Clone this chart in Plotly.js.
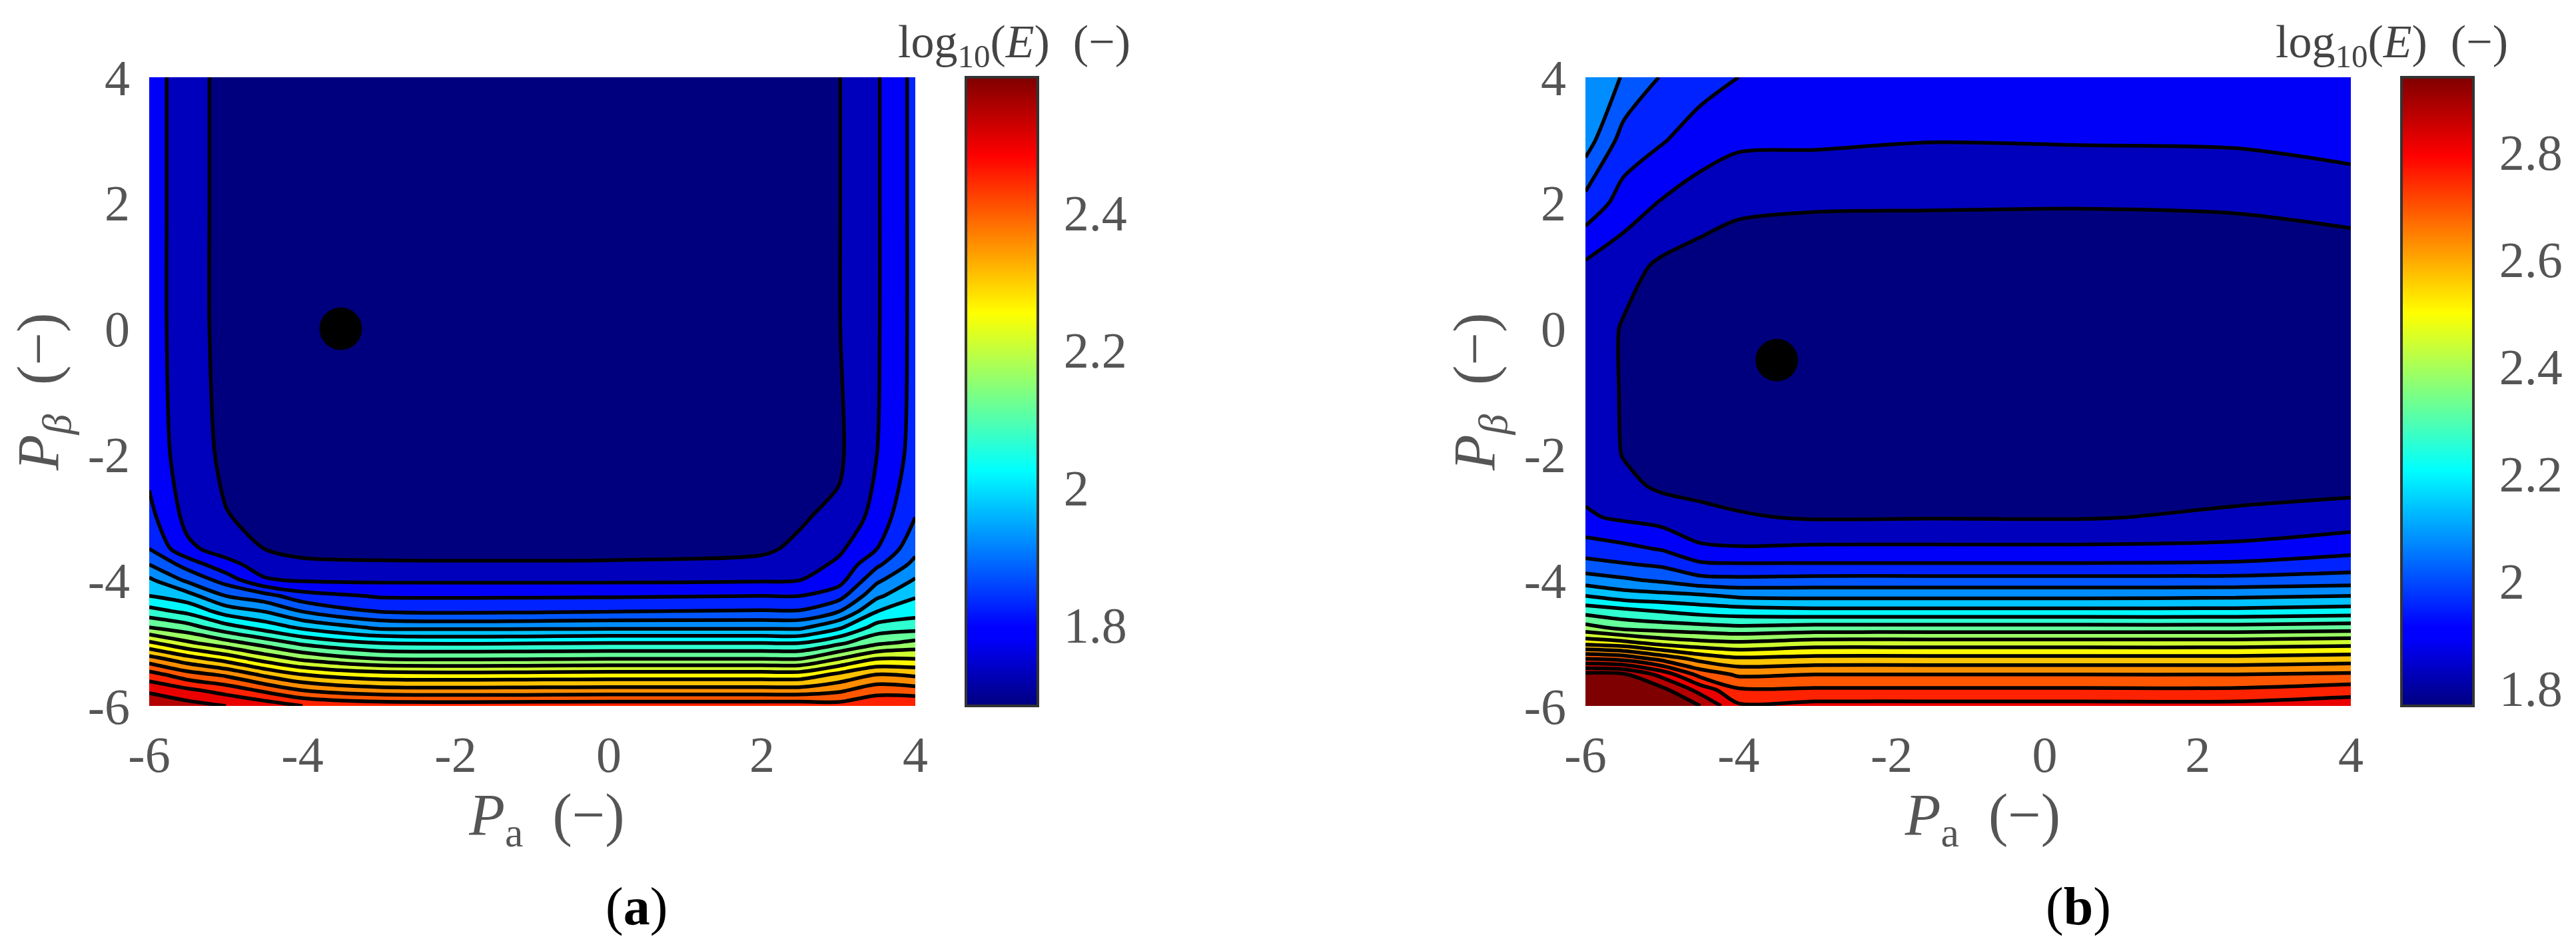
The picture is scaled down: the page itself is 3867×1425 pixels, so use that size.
<!DOCTYPE html>
<html>
<head>
<meta charset="utf-8">
<script src="https://cdn.plot.ly/plotly-3.0.1.min.js"></script>
<style>html,body{margin:0;padding:0;background:#fff}
svg text{font-family:'Liberation Serif',serif !important}</style>
</head>
<body>
<div id="chart" style="width:3867px;height:1425px"></div>
<script>
// Panel (a)
const xA = [-6,-5.5,-5,-4.5,-4,-3,0,2,2.5,3,3.5,4];
const yA = [4,2,0,-2,-3,-3.5,-3.75,-4,-4.25,-4.5,-4.75,-5,-5.25,-5.5,-5.75,-6];
const colsA = [
 [1.775,1.775,1.775,1.78,1.815,1.85,1.90,1.96,2.00,2.07,2.15,2.26,2.37,2.47,2.54,2.595],
 [1.72,1.72,1.72,1.725,1.735,1.76,1.83,1.89,1.97,2.04,2.12,2.21,2.32,2.42,2.51,2.57],
 [1.685,1.685,1.685,1.69,1.702,1.73,1.765,1.83,1.90,1.98,2.07,2.17,2.28,2.39,2.48,2.55],
 [1.684,1.684,1.684,1.686,1.69,1.70,1.73,1.755,1.87,1.95,2.03,2.13,2.23,2.34,2.44,2.53],
 [1.683,1.683,1.683,1.685,1.688,1.693,1.705,1.745,1.82,1.90,1.99,2.09,2.19,2.30,2.40,2.50],
 [1.683,1.683,1.683,1.685,1.69,1.692,1.703,1.742,1.795,1.85,1.94,2.05,2.15,2.27,2.37,2.48],
 [1.683,1.683,1.683,1.685,1.69,1.692,1.703,1.742,1.795,1.85,1.94,2.05,2.15,2.27,2.37,2.48],
 [1.684,1.684,1.684,1.686,1.692,1.696,1.706,1.745,1.80,1.855,1.94,2.05,2.15,2.27,2.37,2.48],
 [1.688,1.688,1.688,1.69,1.697,1.705,1.725,1.75,1.80,1.855,1.94,2.05,2.15,2.27,2.37,2.48],
 [1.698,1.698,1.698,1.692,1.708,1.74,1.76,1.78,1.83,1.90,1.99,2.09,2.20,2.31,2.39,2.47],
 [1.745,1.745,1.745,1.75,1.77,1.80,1.84,1.89,1.94,2.0,2.07,2.14,2.25,2.35,2.43,2.49],
 [1.815,1.815,1.815,1.82,1.85,1.885,1.915,1.955,1.995,2.03,2.08,2.165,2.25,2.34,2.42,2.5]
];
const dotA = {x:[-3.5], y:[0]};
const rangeA = [1.682,2.597];
const cbTicksA = [1.8,2,2.2,2.4];
const cbLabelsA = ['1.8','2','2.2','2.4'];

// Panel (b)
const xB = [-6,-5.5,-5,-4.5,-4,-3,-1.5,0.5,2.5,4];
const yB = [4,3,2,1,0,-1,-2,-2.5,-3,-3.5,-3.75,-4,-4.25,-4.5,-4.75,-5,-5.25,-5.5,-5.75,-6];
const colsB = [
 [2.09,2.07,1.96,1.85,1.835,1.835,1.84,1.845,1.868,1.95,2.0,2.07,2.16,2.26,2.36,2.50,2.70,2.90,2.925,2.93],
 [2.035,1.955,1.895,1.82,1.795,1.795,1.797,1.815,1.85,1.935,1.985,2.05,2.13,2.24,2.32,2.48,2.68,2.89,2.92,2.93],
 [1.975,1.925,1.855,1.79,1.78,1.78,1.785,1.79,1.835,1.915,1.97,2.03,2.12,2.22,2.31,2.44,2.62,2.80,2.90,2.93],
 [1.945,1.89,1.83,1.775,1.772,1.772,1.775,1.785,1.815,1.87,1.93,2.0,2.11,2.2,2.30,2.42,2.56,2.68,2.80,2.88],
 [1.92,1.872,1.81,1.772,1.77,1.77,1.772,1.78,1.805,1.865,1.925,1.995,2.09,2.19,2.29,2.41,2.53,2.63,2.71,2.77],
 [1.905,1.87,1.805,1.77,1.768,1.768,1.77,1.775,1.795,1.87,1.925,2.0,2.085,2.18,2.30,2.43,2.54,2.64,2.71,2.78],
 [1.9,1.862,1.804,1.77,1.768,1.768,1.77,1.775,1.797,1.87,1.925,2.0,2.085,2.18,2.30,2.43,2.54,2.64,2.71,2.78],
 [1.895,1.865,1.803,1.77,1.768,1.768,1.77,1.775,1.796,1.87,1.925,2.0,2.085,2.18,2.30,2.43,2.54,2.64,2.71,2.78],
 [1.89,1.868,1.806,1.77,1.768,1.768,1.772,1.782,1.81,1.875,1.93,2.0,2.09,2.18,2.30,2.43,2.54,2.64,2.71,2.78],
 [1.89,1.885,1.82,1.77,1.768,1.768,1.775,1.785,1.825,1.90,1.95,2.01,2.10,2.19,2.31,2.44,2.55,2.65,2.73,2.80]
];
const dotB = {x:[-3.5], y:[-0.5]};
const rangeB = [1.767,2.94];
const cbTicksB = [1.8,2,2.2,2.4,2.6,2.8];
const cbLabelsB = ['1.8','2','2.2','2.4','2.6','2.8'];

// Shared axes
const axisTicks = [-6,-4,-2,0,2,4];
const axisLabels = ['-6','-4','-2','0','2','4'];
const xTitle = '&#160;&#160;<i>P</i><sub>a</sub>&#160;&#160;(−)';
const yTitle = '<i>P</i><sub><i>β</i></sub>&#160;&#160;(−)';
const cbTitle = 'log<sub>10</sub>(<i>E</i>)&#160;&#160;(−)';

const jet = [[0,'#00007f'],[0.11,'#0000ff'],[0.125,'#0000ff'],[0.375,'#00ffff'],[0.5,'#80ff80'],[0.625,'#ffff00'],[0.875,'#ff0000'],[1,'#7f0000']];
const W = 3867, H = 1425;
const serif = 'Liberation Serif';
const tickFont = {family: serif, size: 76, color: '#555'};

const toRows = (ys, cols) => ys.map((_, j) => cols.map(c => c[j]));

function panel(xs, ys, cols, range, levels, dot, ax, cbx, ticks, labels) {
  const z = toRows(ys, cols);
  const ya = ys.slice().reverse(), za = z.slice().reverse();
  const suffix = ax === 1 ? '' : '2';
  return [
    {type:'heatmap', x:xs, y:ya, z:za, zmin:range[0], zmax:range[1], colorscale:jet, zsmooth:'best',
     xaxis:'x'+suffix, yaxis:'y'+suffix, hoverinfo:'skip',
     colorbar:{x:cbx/W, xanchor:'left', xpad:0, ypad:0, y:1-116/H, yanchor:'top', lenmode:'fraction', len:944/H,
       thicknessmode:'pixels', thickness:108, outlinewidth:4, outlinecolor:'#333',
       ticks:'outside', ticklen:22, tickcolor:'#fff', tickmode:'array', tickvals:ticks, ticktext:labels, tickfont:tickFont, ticklabelposition:'outside'}},
    {type:'contour', x:xs, y:ya, z:za, autocontour:false, showscale:false, colorscale:jet,
     contours:{start:levels[0], end:levels[1], size:levels[2], coloring:'fill', showlines:true},
     line:{color:'#000', width:5.5, smoothing:0.8}, xaxis:'x'+suffix, yaxis:'y'+suffix},
    {type:'scatter', mode:'markers', x:dot.x, y:dot.y, marker:{color:'#000', size:64}, xaxis:'x'+suffix, yaxis:'y'+suffix, showlegend:false}
  ];
}

const data = [
  ...panel(xA, yA, colsA, rangeA, [1.7,2.6,0.05], dotA, 1, 1450, cbTicksA, cbLabelsA),
  ...panel(xB, yB, colsB, rangeB, [1.8,2.88,0.06], dotB, 2, 3605, cbTicksB, cbLabelsB)
];

function xaxis(d){return {domain:[d[0]/W,d[1]/W], range:[-6,4], tickmode:'array', tickvals:axisTicks, ticktext:axisLabels,
  tickfont:tickFont, ticks:'', showgrid:false, zeroline:false, showline:false, ticklabelstandoff:22,
  title:{text:xTitle, font:{family:serif,size:88,color:'#555'}, standoff:10}};}
function yaxis(){return {domain:[1-1060/H,1-116/H], range:[-6,4], tickmode:'array', tickvals:axisTicks, ticktext:axisLabels,
  tickfont:tickFont, ticks:'', showgrid:false, zeroline:false, showline:false, ticklabelstandoff:28,
  title:{text:yTitle, font:{family:serif,size:88,color:'#555'}, standoff:14}};}

const layout = {
  width:W, height:H, margin:{l:0,r:0,t:0,b:0}, paper_bgcolor:'#fff', plot_bgcolor:'#fff', showlegend:false,
  font:{family:serif},
  xaxis:xaxis([224,1374]), yaxis:Object.assign(yaxis(),{anchor:'x'}),
  xaxis2:Object.assign(xaxis([2380,3529]),{anchor:'y2'}), yaxis2:Object.assign(yaxis(),{anchor:'x2'}),
  annotations:[
    {xref:'paper',yref:'paper',x:1522/W,y:1-68/H,text:cbTitle,showarrow:false,font:{family:serif,size:70,color:'#444'},xanchor:'center',yanchor:'middle'},
    {xref:'paper',yref:'paper',x:3590/W,y:1-68/H,text:cbTitle,showarrow:false,font:{family:serif,size:70,color:'#444'},xanchor:'center',yanchor:'middle'},
    {xref:'paper',yref:'paper',x:955/W,y:1-1361/H,text:'(<b>a</b>)',showarrow:false,font:{family:serif,size:80,color:'#000'},xanchor:'center',yanchor:'middle'},
    {xref:'paper',yref:'paper',x:3120/W,y:1-1361/H,text:'(<b>b</b>)',showarrow:false,font:{family:serif,size:80,color:'#000'},xanchor:'center',yanchor:'middle'}
  ]
};
Plotly.newPlot('chart', data, layout, {displayModeBar:false, staticPlot:true});
</script>
</body>
</html>
